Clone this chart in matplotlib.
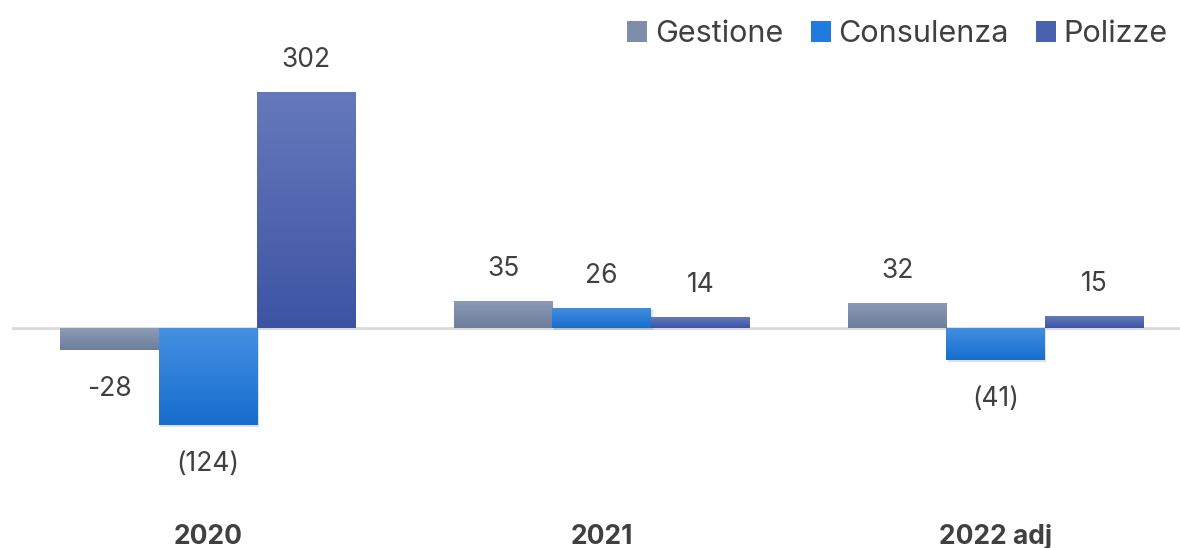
import matplotlib
matplotlib.use("Agg")
import matplotlib.pyplot as plt
from matplotlib.patches import Patch
from matplotlib.colors import LinearSegmentedColormap
import numpy as np

categories = ["2020", "2021", "2022 adj"]
series_names = ["Gestione", "Consulenza", "Polizze"]
gestione = [-28, 35, 32]
consulenza = [-124, 26, -41]
polizze = [302, 14, 15]
label_text = [["-28", "35", "32"], ["(124)", "26", "(41)"], ["302", "14", "15"]]

colors = ["#7d8daa", "#1f7be0", "#4a62ad"]
grad = [("#8c9cb6", "#6d7d9b"), ("#4490e2", "#176dcd"), ("#6679bc", "#3c54a3")]
text_color = "#404040"

plt.rcParams['font.family'] = ['Inter', 'DejaVu Sans']

fig = plt.figure(figsize=(11.8, 5.48), dpi=100)
ax = fig.add_axes([12/1180, 48/548, 1168/1180, 460/548])

x = np.arange(len(categories))
w = 0.25
data = [gestione, consulenza, polizze]
g = np.linspace(0, 1, 256).reshape(-1, 1)
for i, (vals, col) in enumerate(zip(data, colors)):
    xs = x + (i - 1) * w
    bars = ax.bar(xs, vals, width=w, color="none", edgecolor="none", zorder=3)
    cmap = LinearSegmentedColormap.from_list("c%d" % i, [grad[i][0], grad[i][1]])
    for b in bars:
        bx, by = b.get_x(), b.get_y()
        bw, bh = b.get_width(), b.get_height()
        y0, y1 = min(by, by + bh), max(by, by + bh)
        if i == 1:
            ax.bar(bx + bw / 2 + 0.004, y1 - y0, bottom=y0 - 3, width=bw,
                   color="#000000", alpha=0.12, edgecolor="none", zorder=2.5)
        im = ax.imshow(g, cmap=cmap, extent=[bx, bx + bw, y0, y1],
                       aspect="auto", origin="upper", zorder=3, interpolation="bilinear")
        im.set_clip_path(b)
    for xi, v, t in zip(xs, vals, label_text[i]):
        if v >= 0:
            ax.annotate(t, (xi, v), xytext=(0, 23), textcoords="offset points",
                        ha="center", va="center", fontsize=19, color=text_color)
        else:
            ax.annotate(t, (xi, v), xytext=(0, -28), textcoords="offset points",
                        ha="center", va="center", fontsize=19, color=text_color)

ax.axhline(0, color="#d9d9d9", lw=2, zorder=2)
ax.set_xlim(-0.497, 2.468)
ax.set_ylim(-220, 368.7)
ax.set_yticks([])
ax.set_xticks(x)
ax.set_xticklabels(categories, fontsize=19, fontweight="bold", color=text_color)
ax.tick_params(axis="x", length=0, pad=17)
for s in ax.spines.values():
    s.set_visible(False)

handles = [Patch(facecolor=c, edgecolor="none") for c in colors]
fig.legend(handles, series_names, loc="upper right", bbox_to_anchor=(1.013, 1.013),
           ncol=3, frameon=False, fontsize=22, labelcolor=text_color,
           handlelength=0.65, handleheight=0.65, handletextpad=0.25, columnspacing=0.9)

fig.savefig("out.png", dpi=100)
